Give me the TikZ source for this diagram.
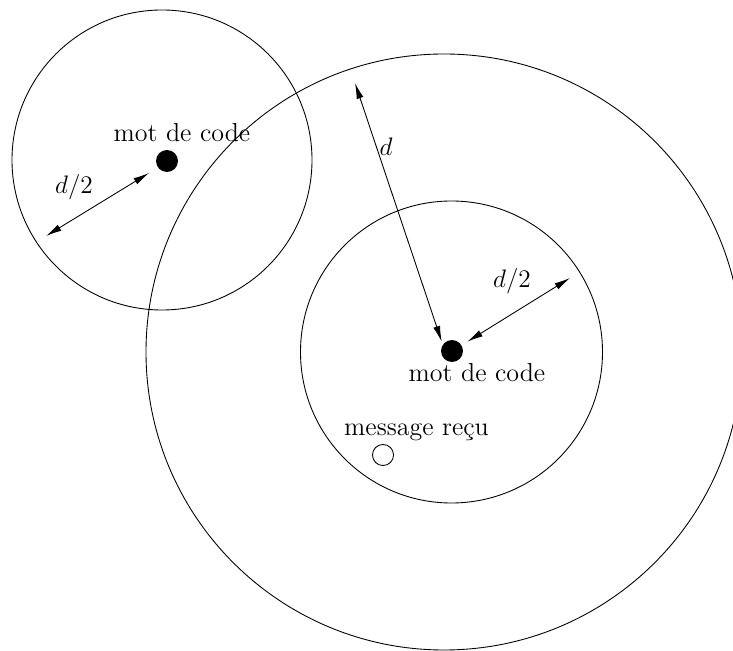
\documentclass[tikz,border=0pt]{standalone}
\usepackage{tikz}
\usetikzlibrary{arrows.meta, positioning}
\tikzset{
  zone/.style={draw, line width=0.5pt},
  codeword/.style={circle, fill=black, minimum size=12.5pt, inner sep=0pt},
  received/.style={circle, draw, line width=0.5pt, minimum size=12pt, inner sep=0pt},
  lbl/.style={font=\fontsize{14.8}{18}\selectfont, inner sep=0pt, anchor=base},
  dist/.style={{Latex[length=9pt,width=4pt]}-{Latex[length=9pt,width=4pt]}, line width=0.5pt}
}

\begin{document}
\begin{tikzpicture}[x=0.2mm, y=-0.2mm]
  \useasboundingbox (0,0) rectangle (733,651);
  % boules autour des mots de code
  \draw[zone] (444,352) circle[radius=298];
  \draw[zone] (451.5,352) circle[radius=151];
  \draw[zone] (162,160) circle[radius=150];
  % points
  \node[codeword] (motA) at (167,161) {};
  \node[codeword] (motB) at (452,351) {};
  \node[received] (recu) at (383,455) {};
  % textes
  \node[lbl] (labA) at (182,142) {mot de code};
  \node[lbl] (labB) at (477,382) {mot de code};
  \node[lbl] (labR) at (416.5,436) {message reçu};
  % distances
  \coordinate (pA) at (46,236);
  \coordinate (qA) at (149,173);
  \coordinate (pD) at (355,83);
  \coordinate (qD) at (441.7,341.7);
  \coordinate (pB) at (570,278);
  \coordinate (qB) at (467.3,341.7);
  \draw[dist] (pA) -- (qA);
  \draw[dist] (pD) -- (qD);
  \draw[dist] (pB) -- (qB);
  \node[lbl] (dA) at (74,194) {$d/2$};
  \node[lbl] (dD) at (386,156) {$d$};
  \node[lbl] (dB) at (512,288) {$d/2$};
\end{tikzpicture}
\end{document}
